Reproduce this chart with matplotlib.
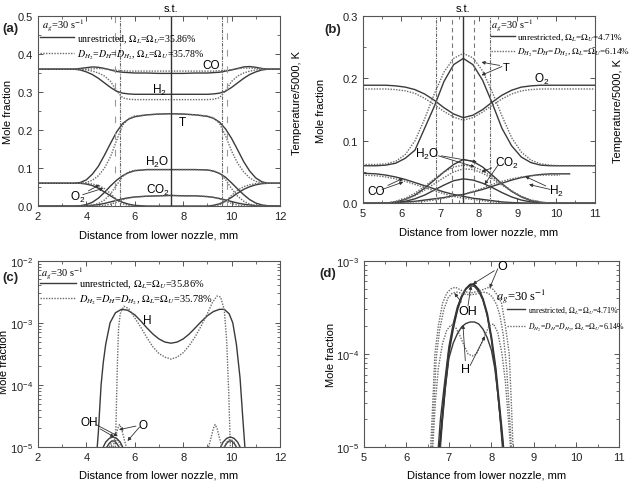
import numpy as np
import matplotlib
matplotlib.use('Agg')
import matplotlib.pyplot as plt
from matplotlib.lines import Line2D
from matplotlib.font_manager import FontProperties
from matplotlib.ticker import MultipleLocator, LogLocator, NullFormatter

plt.rcParams['font.family'] = ['Liberation Sans', 'DejaVu Sans']
plt.rcParams['mathtext.fontset'] = 'custom'
plt.rcParams['mathtext.rm'] = 'Liberation Sans'
plt.rcParams['mathtext.it'] = 'Liberation Sans:italic'
plt.rcParams['mathtext.bf'] = 'Liberation Sans:bold'
plt.rcParams['font.size'] = 8
plt.rcParams['axes.linewidth'] = 0.8
plt.rcParams['axes.edgecolor'] = '#555555'
for ax_ in ['xtick', 'ytick']:
    plt.rcParams[ax_ + '.direction'] = 'in'
    plt.rcParams[ax_ + '.major.size'] = 3.5
    plt.rcParams[ax_ + '.minor.size'] = 2
    plt.rcParams[ax_ + '.major.width'] = 0.7
    plt.rcParams[ax_ + '.minor.width'] = 0.6
    plt.rcParams[ax_ + '.color'] = '#555555'
    plt.rcParams[ax_ + '.labelcolor'] = '#222222'
    plt.rcParams[ax_ + '.labelsize'] = 8

# ---------------- panel (a): H2/CO flame, mole fractions ----------------
xa = [2, 3, 3.5, 3.75, 4, 4.25, 4.5, 4.75, 5, 5.25, 5.5, 5.75, 6, 6.5, 7, 7.5,
      8, 8.5, 9, 9.25, 9.5, 9.75, 10, 10.25, 10.5, 10.75, 11, 11.25, 11.5, 12]
co_a_s = [0.36, 0.36, 0.36, 0.362, 0.364, 0.366, 0.365, 0.362, 0.358, 0.354, 0.352, 0.351, 0.35, 0.35, 0.349,
          0.349, 0.349, 0.35, 0.35, 0.351, 0.352, 0.355, 0.358, 0.362, 0.366, 0.367, 0.365, 0.362, 0.36, 0.36]
co_a_d = [0.36, 0.36, 0.36, 0.36, 0.36, 0.361, 0.362, 0.361, 0.359, 0.357, 0.356, 0.355, 0.355, 0.355, 0.355,
          0.355, 0.355, 0.355, 0.355, 0.355, 0.356, 0.357, 0.359, 0.361, 0.363, 0.363, 0.362, 0.361, 0.36, 0.36]
h2_a_s = [0.36, 0.36, 0.36, 0.358, 0.353, 0.346, 0.336, 0.324, 0.312, 0.302, 0.297, 0.295, 0.294, 0.294, 0.294,
          0.294, 0.294, 0.294, 0.294, 0.295, 0.297, 0.302, 0.312, 0.324, 0.336, 0.346, 0.353, 0.358, 0.36, 0.36]
h2_a_d = [0.36, 0.36, 0.36, 0.36, 0.358, 0.355, 0.35, 0.342, 0.328, 0.303, 0.285, 0.281, 0.28, 0.28, 0.28,
          0.28, 0.28, 0.28, 0.28, 0.281, 0.285, 0.303, 0.328, 0.342, 0.35, 0.355, 0.358, 0.36, 0.36, 0.36]
t_a_s = [0.06, 0.06, 0.06, 0.062, 0.069, 0.084, 0.105, 0.134, 0.165, 0.195, 0.217, 0.229, 0.235, 0.24, 0.242,
         0.243, 0.242, 0.24, 0.236, 0.231, 0.221, 0.203, 0.178, 0.148, 0.117, 0.092, 0.074, 0.064, 0.06, 0.06]
t_a_d = [0.06, 0.06, 0.06, 0.06, 0.062, 0.068, 0.08, 0.1, 0.13, 0.173, 0.213, 0.23, 0.237, 0.24, 0.242,
         0.243, 0.242, 0.24, 0.237, 0.232, 0.218, 0.185, 0.145, 0.113, 0.09, 0.074, 0.065, 0.061, 0.06, 0.06]
h2o_a_s = [0, 0, 0, 0.001, 0.004, 0.01, 0.021, 0.036, 0.053, 0.068, 0.08, 0.088, 0.093, 0.096, 0.096,
           0.096, 0.096, 0.096, 0.095, 0.092, 0.086, 0.076, 0.061, 0.045, 0.03, 0.017, 0.008, 0.003, 0.001, 0]
h2o_a_d = [0, 0, 0, 0, 0.001, 0.003, 0.007, 0.016, 0.032, 0.055, 0.078, 0.09, 0.094, 0.096, 0.096,
           0.096, 0.096, 0.096, 0.095, 0.093, 0.087, 0.07, 0.046, 0.026, 0.013, 0.005, 0.002, 0, 0, 0]
co2_a_s = [0, 0, 0, 0, 0.001, 0.002, 0.004, 0.007, 0.011, 0.015, 0.019, 0.022, 0.024, 0.026, 0.027,
           0.028, 0.027, 0.027, 0.025, 0.023, 0.02, 0.016, 0.012, 0.008, 0.005, 0.003, 0.001, 0, 0, 0]
co2_a_d = [0, 0, 0, 0, 0, 0, 0.001, 0.002, 0.005, 0.01, 0.017, 0.021, 0.024, 0.026, 0.027,
           0.028, 0.027, 0.027, 0.025, 0.023, 0.019, 0.013, 0.007, 0.003, 0.001, 0, 0, 0, 0, 0]
o2_a_s = [0.06, 0.06, 0.06, 0.06, 0.058, 0.054, 0.047, 0.037, 0.027, 0.017, 0.01, 0.005, 0.002, 0, 0,
          0, 0, 0, 0, 0.002, 0.006, 0.013, 0.023, 0.034, 0.044, 0.051, 0.056, 0.059, 0.06, 0.06]
o2_a_d = [0.06, 0.06, 0.06, 0.06, 0.06, 0.058, 0.054, 0.046, 0.033, 0.017, 0.006, 0.002, 0, 0, 0,
          0, 0, 0, 0, 0, 0.003, 0.012, 0.028, 0.042, 0.051, 0.056, 0.059, 0.06, 0.06, 0.06]

# ---------------- panel (b) ----------------
xb = [5, 5.35, 5.6, 5.85, 6.1, 6.35, 6.6, 6.85, 7.1, 7.35, 7.6, 7.85,
      8.1, 8.35, 8.6, 8.85, 9.1, 9.35, 9.6, 9.85, 10.1, 10.35, 10.6, 11]
t_b_s = [0.06, 0.06, 0.061, 0.064, 0.072, 0.085, 0.12, 0.155, 0.195, 0.222, 0.232, 0.222,
         0.197, 0.16, 0.12, 0.092, 0.074, 0.065, 0.061, 0.06, 0.06, 0.06, 0.06, 0.06]
t_b_d = [0.062, 0.062, 0.063, 0.067, 0.078, 0.1, 0.135, 0.175, 0.21, 0.232, 0.24, 0.233,
         0.212, 0.178, 0.14, 0.105, 0.082, 0.069, 0.063, 0.061, 0.06, 0.06, 0.06, 0.06]
o2_b_s = [0.189, 0.189, 0.189, 0.188, 0.186, 0.182, 0.175, 0.165, 0.153, 0.143, 0.137, 0.141,
          0.15, 0.162, 0.173, 0.181, 0.186, 0.188, 0.189, 0.189, 0.189, 0.189, 0.189, 0.189]
o2_b_d = [0.183, 0.183, 0.183, 0.182, 0.18, 0.176, 0.168, 0.158, 0.147, 0.138, 0.133, 0.137,
          0.146, 0.157, 0.167, 0.175, 0.18, 0.182, 0.183, 0.183, 0.183, 0.183, 0.183, 0.183]
h2o_b_s = [0, 0, 0, 0.002, 0.006, 0.013, 0.024, 0.037, 0.05, 0.062, 0.07, 0.067,
           0.058, 0.045, 0.031, 0.019, 0.01, 0.004, 0.001, 0, 0, 0, 0, 0]
h2o_b_d = [0, 0, 0, 0.003, 0.008, 0.016, 0.027, 0.039, 0.05, 0.058, 0.061, 0.059,
           0.052, 0.042, 0.031, 0.02, 0.011, 0.005, 0.002, 0, 0, 0, 0, 0]
co2_b_s = [0, 0, 0, 0.001, 0.003, 0.007, 0.013, 0.021, 0.029, 0.036, 0.039, 0.037,
           0.032, 0.025, 0.017, 0.01, 0.005, 0.002, 0.001, 0, 0, 0, 0, 0]
co2_b_d = [0, 0, 0, 0.002, 0.006, 0.012, 0.021, 0.031, 0.041, 0.05, 0.055, 0.054,
           0.048, 0.039, 0.029, 0.019, 0.011, 0.005, 0.002, 0, 0, 0, 0, 0]
co_b_s = [0.048, 0.047, 0.045, 0.042, 0.038, 0.033, 0.028, 0.023, 0.018, 0.014, 0.011, 0.008,
          0.006, 0.004, 0.002, 0.001, 0.0005, 0, 0, 0, 0, 0, 0, 0]
co_b_d = [0.045, 0.044, 0.042, 0.039, 0.035, 0.03, 0.025, 0.02, 0.015, 0.011, 0.008, 0.006,
          0.004, 0.002, 0.001, 0, 0, 0, 0, 0, 0, 0, 0, 0]
h2_b_s = [0, 0, 0, 0.001, 0.002, 0.003, 0.005, 0.007, 0.009, 0.012, 0.014, 0.018,
          0.022, 0.027, 0.032, 0.037, 0.041, 0.044, 0.046, 0.047, 0.047, 0.047, np.nan, np.nan]
h2_b_d = [0, 0, 0, 0, 0.001, 0.002, 0.003, 0.005, 0.008, 0.011, 0.014, 0.019,
          0.024, 0.03, 0.035, 0.039, 0.042, 0.044, 0.045, 0.045, 0.045, np.nan, np.nan, np.nan]

# ---------------- panel (c): radicals, H2/CO flame ----------------
x_h_c_s = [4.45, 4.5, 4.55, 4.61, 4.7, 4.8, 4.98, 5.2, 5.45, 5.7, 6.0, 6.25, 6.5, 6.75, 7.0, 7.25,
           7.5, 7.75, 8.0, 8.25, 8.5, 8.75, 9.0, 9.25, 9.5, 9.7, 9.9, 10.05, 10.2, 10.35, 10.45, 10.55]
h_c_s = [1e-5, 1.8e-5, 4e-5, 1e-4, 2.3e-4, 4.5e-4, 1e-3, 1.45e-3, 1.65e-3, 1.6e-3, 1.35e-3, 1.07e-3, 8.3e-4,
         6.6e-4, 5.5e-4, 4.9e-4, 4.7e-4, 4.9e-4, 5.5e-4, 6.6e-4, 8.3e-4, 1.05e-3, 1.3e-3, 1.52e-3, 1.65e-3,
         1.65e-3, 1.4e-3, 1e-3, 4.5e-4, 1.3e-4, 3.5e-5, 1e-5]
x_h_c_d = [5.2, 5.24, 5.28, 5.33, 5.4, 5.55, 5.75, 6.0, 6.25, 6.5, 6.75, 7.0, 7.25, 7.5, 7.75,
           8.0, 8.25, 8.5, 8.75, 9.0, 9.2, 9.4, 9.55, 9.7, 9.8, 9.88, 9.95]
h_c_d = [1e-5, 4e-5, 2e-4, 8e-4, 1.4e-3, 1.85e-3, 1.7e-3, 1.2e-3, 8.5e-4, 5.8e-4, 4.1e-4, 3.2e-4, 2.8e-4,
         2.6e-4, 2.8e-4, 3.3e-4, 4.3e-4, 6e-4, 9e-4, 1.4e-3, 2.1e-3, 2.7e-3, 2.6e-3, 1.6e-3, 5e-4, 8e-5, 1e-5]
x_oh_c_s = [4.7, 4.8, 4.95, 5.1, 5.25, 5.4, 5.5, np.nan, 9.55, 9.65, 9.8, 9.95, 10.1, 10.25, 10.35]
oh_c_s = [1e-5, 1.2e-5, 1.38e-5, 1.45e-5, 1.38e-5, 1.2e-5, 1e-5, np.nan,
          1e-5, 1.2e-5, 1.38e-5, 1.45e-5, 1.38e-5, 1.2e-5, 1e-5]
x_o_c_s = [4.85, 4.95, 5.05, 5.15, 5.25, 5.35, np.nan, 9.7, 9.8, 9.9, 10.0, 10.1, 10.2]
o_c_s = [1e-5, 1.15e-5, 1.25e-5, 1.25e-5, 1.15e-5, 1e-5, np.nan, 1e-5, 1.15e-5, 1.25e-5, 1.25e-5, 1.15e-5, 1e-5]
x_o_c_d = [5.1, 5.2, 5.3, 5.37, 5.45, 5.55, 5.65, np.nan, 9.05, 9.15, 9.25, 9.32, 9.4, 9.5, 9.6]
o_c_d = [1e-5, 1.4e-5, 2e-5, 2.3e-5, 2e-5, 1.4e-5, 1e-5, np.nan, 1e-5, 1.4e-5, 2e-5, 2.3e-5, 2e-5, 1.4e-5, 1e-5]
x_oh_c_d = [4.95, 5.05, 5.15, 5.25, 5.35, 5.45, np.nan, 9.7, 9.8, 9.9, 10.0, 10.1, 10.2]
oh_c_d = [1e-5, 1.2e-5, 1.3e-5, 1.3e-5, 1.2e-5, 1e-5, np.nan, 1e-5, 1.2e-5, 1.3e-5, 1.3e-5, 1.2e-5, 1e-5]

# ---------------- panel (d) ----------------
x_o_d_s = [6.78, 6.82, 6.9, 7.0, 7.1, 7.2, 7.3, 7.4, 7.5, 7.55, 7.6, 7.7, 7.8, 7.9, 8.0, 8.1, 8.18, 8.24, 8.28]
o_d_s = [1e-5, 1.6e-5, 4e-5, 1.05e-4, 1.9e-4, 3e-4, 4.1e-4, 5e-4, 5.55e-4, 5.6e-4, 5.5e-4, 4.9e-4,
         3.9e-4, 2.7e-4, 1.5e-4, 7e-5, 3e-5, 1.6e-5, 1e-5]
x_oh_d_s = [6.75, 6.8, 6.9, 7.0, 7.1, 7.2, 7.3, 7.4, 7.5, 7.6, 7.7, 7.8, 7.9, 8.0, 8.1, 8.2, 8.26]
oh_d_s = [1e-5, 2e-5, 5e-5, 1.2e-4, 2.1e-4, 3.2e-4, 4.2e-4, 5e-4, 5.4e-4, 5.3e-4, 4.7e-4, 3.8e-4,
          2.6e-4, 1.45e-4, 6.5e-5, 2.2e-5, 1e-5]
x_o_d_d = [6.57, 6.62, 6.67, 6.75, 6.85, 6.95, 7.05, 7.15, 7.3, 7.5, 7.7, 7.85, 7.95, 8.05, 8.15, 8.24,
           8.33, 8.42, 8.47, 8.51]
o_d_d = [1e-5, 3e-5, 1e-4, 2e-4, 3.5e-4, 4.5e-4, 5e-4, 5.2e-4, 4.8e-4, 4.5e-4, 4.7e-4, 5e-4, 5.2e-4,
         4.9e-4, 4.2e-4, 3.5e-4, 2e-4, 1e-4, 3e-5, 1e-5]
x_oh_d_d = [6.6, 6.65, 6.7, 6.78, 6.88, 6.98, 7.08, 7.2, 7.35, 7.5, 7.65, 7.8, 7.92, 8.02, 8.12, 8.2,
            8.28, 8.36, 8.42, 8.47]
oh_d_d = [1e-5, 3e-5, 9e-5, 1.8e-4, 3e-4, 4e-4, 4.5e-4, 4.6e-4, 4.4e-4, 4.3e-4, 4.4e-4, 4.6e-4, 4.5e-4,
          4.1e-4, 3.4e-4, 2.6e-4, 1.6e-4, 7e-5, 2.5e-5, 1e-5]
x_h_d_s = [6.8, 6.85, 6.92, 7.0, 7.1, 7.2, 7.3, 7.4, 7.5, 7.6, 7.7, 7.8, 7.9, 8.0, 8.08, 8.16, 8.22, 8.28]
h_d_s = [1e-5, 2e-5, 4.5e-5, 9e-5, 1.3e-4, 1.65e-4, 1.95e-4, 2.12e-4, 2.2e-4, 2.2e-4, 2.1e-4, 1.85e-4,
         1.5e-4, 1.1e-4, 7e-5, 3.5e-5, 1.8e-5, 1e-5]
x_h_d_d = [6.62, 6.68, 6.75, 6.85, 6.95, 7.05, 7.15, 7.25, 7.35, 7.45, 7.55, 7.65, 7.75, 7.85, 7.95,
           8.05, 8.15, 8.25, 8.33, 8.4, 8.45]
h_d_d = [1e-5, 3e-5, 7e-5, 1.3e-4, 1.8e-4, 2.05e-4, 1.95e-4, 1.6e-4, 1.25e-4, 1e-4, 9.5e-5, 1e-4,
         1.25e-4, 1.6e-4, 2e-4, 2.1e-4, 1.7e-4, 1e-4, 5e-5, 2e-5, 1e-5]

# vertical reference lines (position of s.t. and flame edges)
st_a, edge_a, dash_a = 7.5, [5.4, 9.6], [5.2, 9.8]
st_b, edge_b, dash_b = 7.6, [6.9, 8.3], [7.32, 7.88]

SOL = dict(color='#3a3a3a', lw=1.0)
DOT = dict(color='#6a6a6a', lw=1.0, ls=(0, (1, 1)))
ARR = dict(arrowstyle='-|>', color='#333333', lw=0.6, mutation_scale=5, shrinkA=0, shrinkB=0)


def serif(size):
    return FontProperties(family='Liberation Serif', size=size, math_fontfamily='stix')


def legend(ax, ag_xy, labels, fp, anchor, hl=3.4, ls=0.25, agfp=None):
    ax.text(ag_xy[0], ag_xy[1], '$a_g$=30 s$^{-1}$', transform=ax.transAxes,
            fontproperties=agfp or fp, va='center', ha='left')
    hs = [Line2D([], [], **SOL), Line2D([], [], **DOT)]
    ax.legend(hs, labels, loc='upper left', bbox_to_anchor=anchor, frameon=False, prop=fp,
              handlelength=hl, handletextpad=0.3, labelspacing=ls, borderpad=0, borderaxespad=0)


def frame(ax):
    ax.tick_params(which='both', top=True, right=True)


fig = plt.figure(figsize=(6.32, 4.85), dpi=100)

# ---------- (a) ----------
axa = fig.add_axes([0.060, 0.573, 0.383, 0.392])
for ys in [co_a_s, h2_a_s, t_a_s, h2o_a_s, co2_a_s, o2_a_s]:
    axa.plot(xa, ys, **SOL)
for ys in [co_a_d, h2_a_d, t_a_d, h2o_a_d, co2_a_d, o2_a_d]:
    axa.plot(xa, ys, **DOT)
axa.axvline(st_a, color='#333333', lw=1.0)
for v in edge_a:
    axa.axvline(v, color='#666666', lw=0.8, ls=(0, (3, 1, 1, 1)))
for v in dash_a:
    axa.axvline(v, color='#999999', lw=0.8, ls=(0, (6, 9)))
axa.set_xlim(2, 12)
axa.set_ylim(0, 0.5)
axa.xaxis.set_major_locator(MultipleLocator(2))
axa.xaxis.set_minor_locator(MultipleLocator(1))
axa.yaxis.set_major_locator(MultipleLocator(0.1))
axa.yaxis.set_minor_locator(MultipleLocator(0.05))
axa.yaxis.set_major_formatter(plt.FuncFormatter(lambda v, p: f'{v:.1f}'))
frame(axa)
axa.set_xlabel('Distance from lower nozzle, mm', fontsize=8)
axa.xaxis.set_label_coords(0.5, -0.125)
axa.set_ylabel('Mole fraction', fontsize=8)
axa.yaxis.set_label_coords(-0.105, 0.5)
axa.text(1.07, 0.55, 'Temperature/5000, K', transform=axa.transAxes, rotation=90,
         va='center', ha='center', fontsize=8)
axa.annotate('s.t.', xy=(st_a, 1.015), xycoords=('data', 'axes fraction'), ha='center', va='bottom', fontsize=8)
legend(axa, (0.017, 0.955),
       ['unrestricted, $\\Omega_L$=$\\Omega_U$=35.86%',
        '$D_{H_2}$=$D_H$=$D_{H_2}$, $\\Omega_L$=$\\Omega_U$=35.78%'], serif(7.1), (0.01, 0.915),
       ls=0.3, agfp=serif(7.5))
axa.text(9.15, 0.372, 'CO', ha='center', va='center', fontsize=8.5)
axa.text(7.0, 0.306, 'H$_2$', ha='center', va='center', fontsize=8.5)
axa.text(7.95, 0.222, 'T', ha='center', va='center', fontsize=8.5)
axa.text(6.9, 0.118, 'H$_2$O', ha='center', va='center', fontsize=8.5)
axa.text(6.95, 0.045, 'CO$_2$', ha='center', va='center', fontsize=8.5)
axa.annotate('O$_2$', xy=(4.55, 0.056), xytext=(3.65, 0.025), ha='center', va='center', fontsize=8.5,
             arrowprops=ARR)
axa.annotate('', xy=(4.7, 0.047), xytext=(3.85, 0.03), arrowprops=ARR)

# ---------- (b) ----------
axb = fig.add_axes([0.574, 0.579, 0.367, 0.386])
for ys in [t_b_s, o2_b_s, h2o_b_s, co2_b_s, co_b_s, h2_b_s]:
    axb.plot(xb, ys, **SOL)
for ys in [t_b_d, o2_b_d, h2o_b_d, co2_b_d, co_b_d, h2_b_d]:
    axb.plot(xb, ys, **DOT)
axb.axvline(st_b, color='#333333', lw=1.0)
for v in edge_b:
    axb.axvline(v, color='#666666', lw=0.8, ls=(0, (3, 1, 1, 1)))
for v in dash_b:
    axb.axvline(v, color='#777777', lw=0.8, ls=(0, (4, 3)))
axb.set_xlim(5, 11)
axb.set_ylim(0, 0.3)
axb.xaxis.set_major_locator(MultipleLocator(1))
axb.xaxis.set_minor_locator(MultipleLocator(0.5))
axb.yaxis.set_major_locator(MultipleLocator(0.1))
axb.yaxis.set_minor_locator(MultipleLocator(0.05))
axb.yaxis.set_major_formatter(plt.FuncFormatter(lambda v, p: f'{v:.1f}'))
frame(axb)
axb.set_xlabel('Distance from lower nozzle, mm', fontsize=8)
axb.xaxis.set_label_coords(0.5, -0.125)
axb.set_ylabel('Mole fraction', fontsize=8)
axb.yaxis.set_label_coords(-0.16, 0.5)
axb.text(1.1, 0.5, 'Temperature/5000, K', transform=axb.transAxes, rotation=90,
         va='center', ha='center', fontsize=8)
axb.annotate('s.t.', xy=(st_b, 1.015), xycoords=('data', 'axes fraction'), ha='center', va='bottom', fontsize=8)
legend(axb, (0.555, 0.955),
       ['unrestricted, $\\Omega_L$=$\\Omega_U$=4.71%',
        '$D_{H_2}$=$D_H$=$D_{H_2}$, $\\Omega_L$=$\\Omega_U$=6.14%'], serif(6.6), (0.552, 0.915),
       hl=2.6, ls=0.45, agfp=serif(7.5))
axb.annotate('T', xy=(8.07, 0.226), xytext=(8.7, 0.219), ha='center', va='center', fontsize=8, arrowprops=ARR)
axb.annotate('', xy=(8.07, 0.205), xytext=(8.6, 0.219), arrowprops=ARR)
axb.text(9.62, 0.2, 'O$_2$', ha='center', va='center', fontsize=8.5)
axb.annotate('H$_2$O', xy=(7.95, 0.066), xytext=(6.65, 0.08), ha='center', va='center', fontsize=8.5,
             arrowprops=ARR)
axb.annotate('', xy=(7.9, 0.058), xytext=(6.95, 0.076), arrowprops=ARR)
axb.annotate('CO$_2$', xy=(8.07, 0.05), xytext=(8.72, 0.066), ha='center', va='center', fontsize=8.5,
             arrowprops=ARR)
axb.annotate('', xy=(8.15, 0.03), xytext=(8.5, 0.061), arrowprops=ARR)
axb.annotate('CO', xy=(6.05, 0.04), xytext=(5.35, 0.02), ha='center', va='center', fontsize=8.5,
             arrowprops=ARR)
axb.annotate('', xy=(6.05, 0.034), xytext=(5.5, 0.022), arrowprops=ARR)
axb.annotate('H$_2$', xy=(9.2, 0.043), xytext=(10.0, 0.02), ha='center', va='center', fontsize=8.5,
             arrowprops=ARR)
axb.annotate('', xy=(9.3, 0.03), xytext=(9.85, 0.022), arrowprops=ARR)

# ---------- (c) ----------
axc = fig.add_axes([0.060, 0.0763, 0.383, 0.384])
axc.set_yscale('log')
axc.plot(x_h_c_s, h_c_s, **SOL)
axc.plot(x_h_c_d, h_c_d, **DOT)
axc.plot(x_oh_c_s, oh_c_s, **SOL)
axc.plot(x_o_c_s, o_c_s, **SOL)
axc.plot(x_o_c_d, o_c_d, **DOT)
axc.plot(x_oh_c_d, oh_c_d, **DOT)
axc.set_xlim(2, 12)
axc.set_ylim(1e-5, 1e-2)
axc.xaxis.set_major_locator(MultipleLocator(2))
axc.xaxis.set_minor_locator(MultipleLocator(1))
axc.yaxis.set_minor_locator(LogLocator(base=10, subs=np.arange(2, 10)))
axc.yaxis.set_minor_formatter(NullFormatter())
frame(axc)
axc.set_xlabel('Distance from lower nozzle, mm', fontsize=8)
axc.xaxis.set_label_coords(0.5, -0.12)
axc.set_ylabel('Mole fraction', fontsize=8)
axc.yaxis.set_label_coords(-0.12, 0.46)
legend(axc, (0.012, 0.94),
       ['unrestricted, $\\Omega_L$=$\\Omega_U$=35.86%',
        '$D_{H_2}$=$D_H$=$D_{H_2}$, $\\Omega_L$=$\\Omega_U$=35.78%'], serif(7.5), (0.01, 0.91))
axc.text(6.5, 1.1e-3, 'H', ha='center', va='center', fontsize=8.5)
axc.annotate('OH', xy=(5.15, 1.45e-5), xytext=(4.1, 2.5e-5), ha='center', va='center', fontsize=8.5,
             arrowprops=ARR)
axc.annotate('', xy=(5.3, 1.5e-5), xytext=(4.4, 2.3e-5), arrowprops=ARR)
axc.annotate('O', xy=(5.35, 1.9e-5), xytext=(6.35, 2.3e-5), ha='center', va='center', fontsize=8.5,
             arrowprops=ARR)
axc.annotate('', xy=(5.7, 1.25e-5), xytext=(6.2, 2.1e-5), arrowprops=ARR)

# ---------- (d) ----------
axd = fig.add_axes([0.576, 0.0763, 0.403, 0.384])
axd.set_yscale('log')
axd.plot(x_o_d_s, o_d_s, color='#2a2a2a', lw=1.4)
axd.plot(x_oh_d_s, oh_d_s, **SOL)
axd.plot(x_h_d_s, h_d_s, **SOL)
axd.plot(x_o_d_d, o_d_d, **DOT)
axd.plot(x_oh_d_d, oh_d_d, **DOT)
axd.plot(x_h_d_d, h_d_d, **DOT)
axd.set_xlim(5, 11)
axd.set_ylim(1e-5, 1e-3)
axd.xaxis.set_major_locator(MultipleLocator(1))
axd.xaxis.set_minor_locator(MultipleLocator(0.5))
axd.yaxis.set_minor_locator(LogLocator(base=10, subs=np.arange(2, 10)))
axd.yaxis.set_minor_formatter(NullFormatter())
frame(axd)
axd.set_xlabel('Distance from lower nozzle, mm', fontsize=8)
axd.xaxis.set_label_coords(0.48, -0.12)
axd.set_ylabel('Mole fraction', fontsize=8)
axd.yaxis.set_label_coords(-0.11, 0.5)
legend(axd, (0.52, 0.815),
       ['unrestricted, $\\Omega_L$=$\\Omega_U$=4.71%',
        '$D_{H_2}$=$D_H$=$D_{H_2}$, $\\Omega_L$=$\\Omega_U$=6.14%'], serif(5.6), (0.56, 0.765),
       hl=2.4, ls=0.75, agfp=serif(9))
axd.annotate('O', xy=(7.56, 5.6e-4), xytext=(8.25, 8.8e-4), ha='center', va='center', fontsize=9,
             arrowprops=ARR)
axd.annotate('', xy=(7.96, 5.1e-4), xytext=(8.15, 8.2e-4), arrowprops=ARR)
axd.annotate('OH', xy=(7.13, 4.5e-4), xytext=(7.45, 2.9e-4), ha='center', va='center', fontsize=9,
             arrowprops=ARR)
axd.annotate('', xy=(7.52, 5.4e-4), xytext=(7.45, 3.3e-4), arrowprops=ARR)
axd.annotate('H', xy=(7.33, 2.05e-4), xytext=(7.4, 6.8e-5), ha='center', va='center', fontsize=9,
             arrowprops=ARR)
axd.annotate('', xy=(7.85, 1.55e-4), xytext=(7.5, 7.5e-5), arrowprops=ARR)

for lab, (fx, fy) in {'(a)': (0.004, 0.934), '(b)': (0.513, 0.932), '(c)': (0.004, 0.42),
                      '(d)': (0.506, 0.428)}.items():
    fig.text(fx, fy, lab, fontsize=9.5, fontweight='bold', color='#222222')

fig.savefig('out.png', dpi=100)
